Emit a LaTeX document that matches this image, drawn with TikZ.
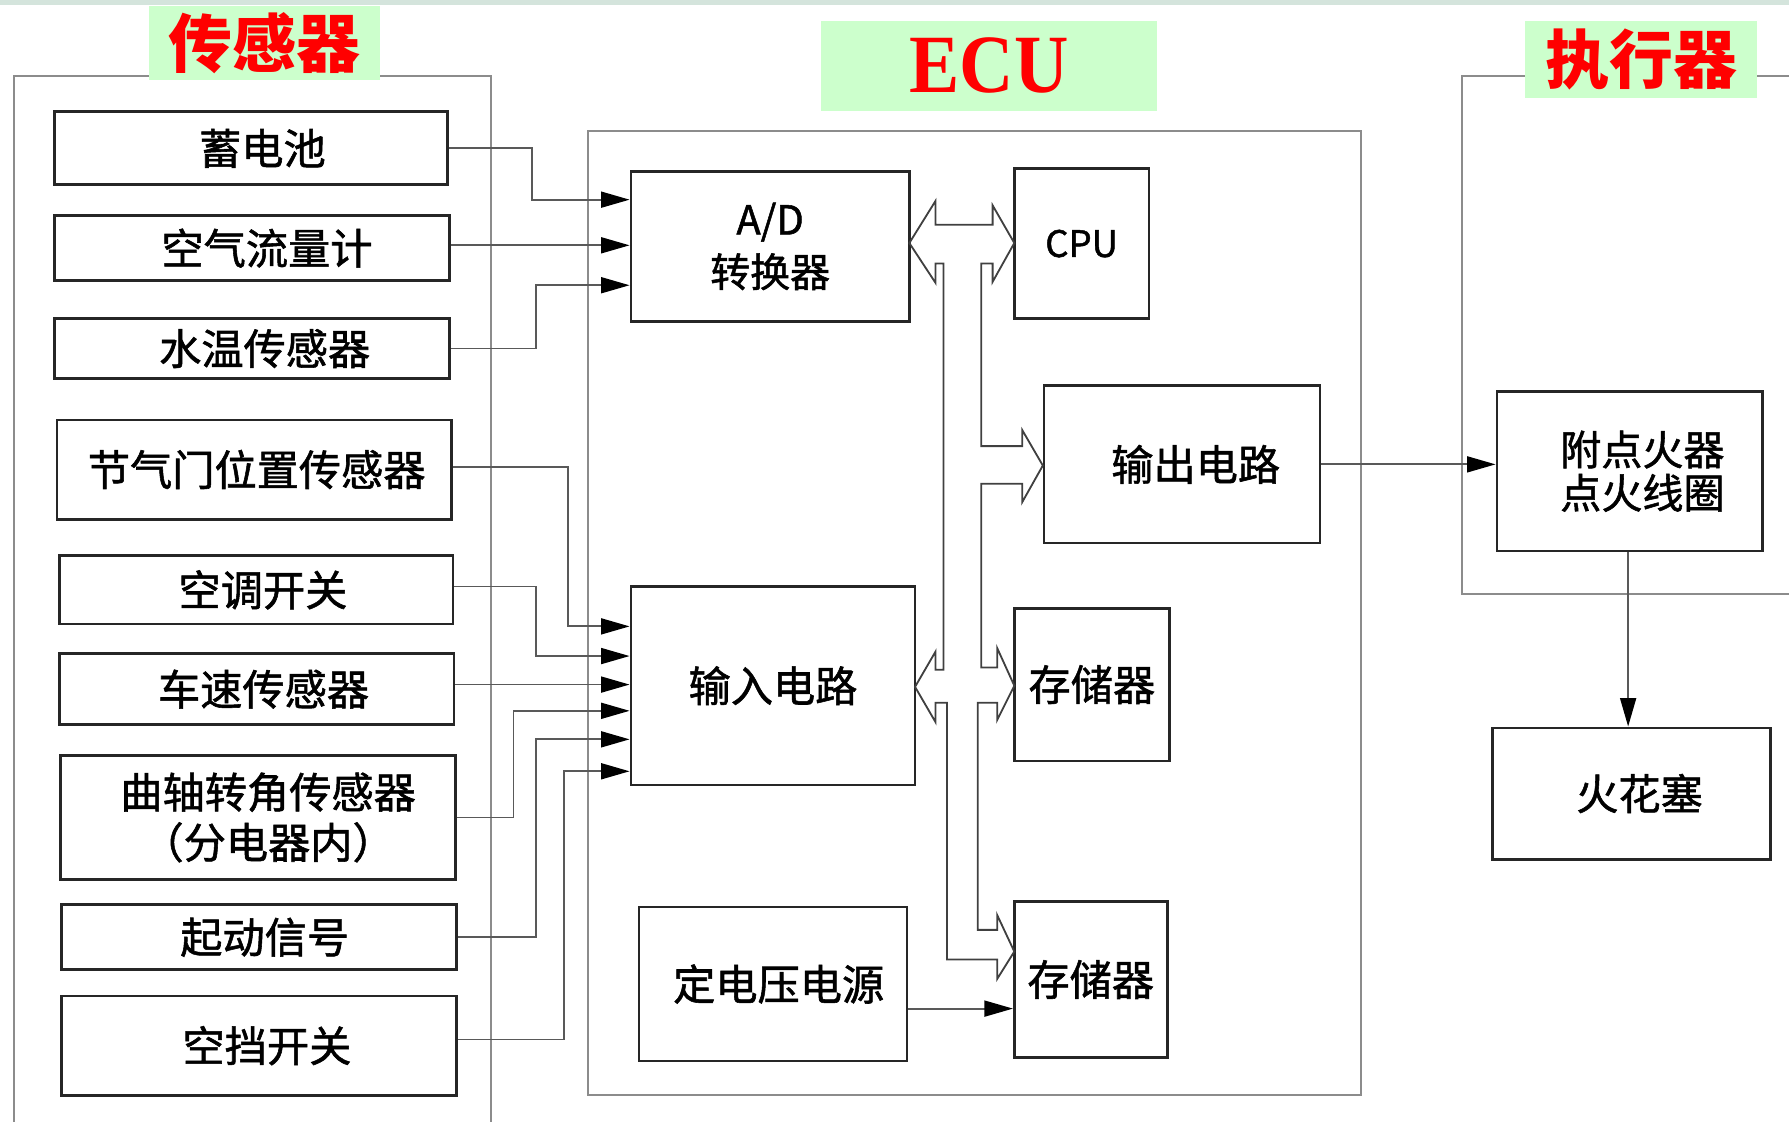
\documentclass[tikz,border=0pt]{standalone}
\usepackage{fontspec}
\usetikzlibrary{arrows.meta}
\newfontfamily\cjk{Noto Sans CJK SC}[FakeBold=1.3]
\newfontfamily\cjkt{Noto Sans CJK SC}
\newfontfamily\serifb{Liberation Serif}
\definecolor{titlegreen}{HTML}{CCFFCC}
\definecolor{topband}{HTML}{D4E4DC}
\definecolor{titlered}{HTML}{FF0000}
\begin{document}
\begin{tikzpicture}[x=1pt,y=-1pt,
  box/.style={draw=black!85, line width=2.4pt, fill=white, inner sep=0pt,
    font=\cjk\fontsize{37}{38}\selectfont, align=center},
  frame/.style={draw=black!45, line width=1.8pt},
  sig/.style={draw=black!65, line width=1.6pt,
    -{Triangle[length=25pt,width=14pt,color=black,fill=black]}},
  bus/.style={draw=black!75, line width=1.6pt, line join=miter},
  title/.style={fill=titlegreen, inner sep=0pt, text=titlered,
    font=\cjkt\bfseries\fontsize{56}{60}\selectfont}]
\useasboundingbox (0,0) rectangle (1568,983);
\fill[topband] (0,0) rectangle (1568,4.5);

% frames
\draw[frame] (12,983) -- (12,67) -- (430,67) -- (430,983);
\draw[frame] (515,115) rectangle (1193,960);
\draw[frame] (1568,67) -- (1281,67) -- (1281,521) -- (1568,521);

% titles
\node[title, minimum width=202pt, minimum height=65pt] (tsens) at (232,37.5) {\raisebox{-4pt}{传感器}};
\node[title, minimum width=294pt, minimum height=79pt,
  font=\serifb\bfseries\fontsize{66}{70}\selectfont] (tecu) at (867,57.5) {\raisebox{-2pt}{\scalebox{1}[1.1]{ECU}}};
\node[title, minimum width=203pt, minimum height=68pt] (tact) at (1438.5,52) {\raisebox{-3pt}{执行器}};

% sensors
\node[box, minimum width=344pt, minimum height=64pt] (bat) at (220,130) {\hspace*{20pt}蓄电池};
\node[box, minimum width=346pt, minimum height=57pt] (air) at (221,217.5) {\hspace*{26pt}空气流量计};
\node[box, minimum width=346pt, minimum height=53pt] (wt) at (221,305.5) {\hspace*{22pt}水温传感器};
\node[box, minimum width=346pt, minimum height=87pt] (thr) at (223,411.5) {\hspace*{4pt}节气门位置传感器};
\node[box, minimum width=345pt, minimum height=60pt] (ac) at (224.5,517) {\hspace*{12pt}空调开关};
\node[box, minimum width=346pt, minimum height=62pt] (spd) at (225,604) {\hspace*{12pt}车速传感器};
\node[box, minimum width=346pt, minimum height=109pt, font=\cjk\fontsize{37}{44}\selectfont] (crk) at (226,716.5) {\hspace*{18pt}曲轴转角传感器\\\hspace*{18pt}（分电器内）};
\node[box, minimum width=346pt, minimum height=57pt] (st) at (227,821.5) {\hspace*{10pt}起动信号};
\node[box, minimum width=346pt, minimum height=87pt] (neu) at (227,916.5) {\hspace*{14pt}空挡开关};

% ECU blocks
\node[box, minimum width=244pt, minimum height=132pt, font=\cjk\fontsize{35}{46}\selectfont] (ad) at (675,216) {A/D\\转换器};
\node[box, minimum width=118pt, minimum height=131pt, font=\cjk\fontsize{32}{36}\selectfont] (cpu) at (948,213.5) {CPU};
\node[box, minimum width=242pt, minimum height=138pt] (out) at (1036,407) {\hspace*{24pt}输出电路};
\node[box, minimum width=249pt, minimum height=174pt] (in) at (677.5,601) {输入电路};
\node[box, minimum width=136pt, minimum height=134pt] (mem1) at (957,600) {存储器};
\node[box, minimum width=235pt, minimum height=135pt] (pwr) at (677.5,862.5) {\hspace*{10pt}定电压电源};
\node[box, minimum width=134pt, minimum height=137pt] (mem2) at (956,858.5) {存储器};

% actuators
\node[box, minimum width=233pt, minimum height=140pt, font=\cjk\fontsize{36}{38}\selectfont] (ign) at (1428.5,413) {\hspace*{22pt}附点火器\\\hspace*{22pt}点火线圈};
\node[box, minimum width=244pt, minimum height=115pt] (spk) at (1430,695.5) {\hspace*{14pt}火花塞};

% sensor signals
\draw[sig] (bat.east) -| (466,175) -- (ad.west |- 0,175);
\draw[sig] (air.east |- 0,215) -- (ad.west |- 0,215);
\draw[sig] (wt.east) -| (470,250) -- (ad.west |- 0,250);
\draw[sig] (thr.east |- 0,409) -| (498,549) -- (in.west |- 0,549);
\draw[sig] (ac.east |- 0,514) -| (470,575) -- (in.west |- 0,575);
\draw[sig] (spd.east |- 0,600) -- (in.west |- 0,600);
\draw[sig] (crk.east) -| (450,623) -- (in.west |- 0,623);
\draw[sig] (st.east) -| (470,648) -- (in.west |- 0,648);
\draw[sig] (neu.east |- 0,911) -| (494,676) -- (in.west |- 0,676);

% power supply to memory
\draw[sig] (pwr.east |- 0,884) -- (mem2.west |- 0,884);

% output
\draw[sig] (out.east) -- (ign.west |- out.east);
\draw[sig] (ign.south -| 1427,0) -- (spk.north -| 1427,0);

% internal bus (hollow double arrows)
\draw[bus] (797,213) -- (820,176) -- (820,197) -- (870,197) -- (870,180) -- (889,213)
  -- (870,247) -- (870,231) -- (860,231) -- (860,391) -- (896,391) -- (896,377)
  -- (914,408) -- (896,440) -- (896,424) -- (860,424) -- (860,585) -- (874,585)
  -- (874,568) -- (889,601) -- (874,631) -- (874,616) -- (857,616) -- (857,815)
  -- (874,815) -- (874,802) -- (889,834) -- (874,858) -- (874,841) -- (830,841)
  -- (830,616) -- (820,616) -- (820,633) -- (802,602) -- (820,571) -- (820,587)
  -- (827,587) -- (827,231) -- (820,231) -- (820,248) -- cycle;
\end{tikzpicture}
\end{document}
